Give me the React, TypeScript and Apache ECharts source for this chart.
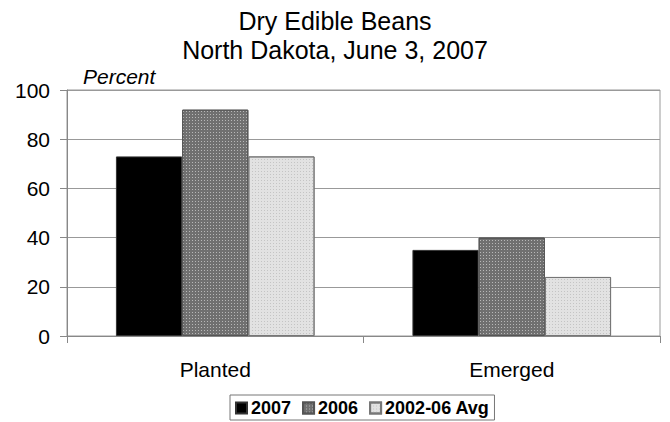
import React, { useEffect, useRef } from "react";
import * as echarts from "echarts";

const categories = ["Planted", "Emerged"];
const seriesNames = ["2007", "2006", "2002-06 Avg"];
const values2007 = [73, 35];
const values2006 = [92, 40];
const valuesAvg = [73, 24];
const yTicks = { min: 0, max: 100, interval: 20 };

export default function App() {
  const ref = useRef<HTMLDivElement>(null);
  useEffect(() => {
    if (!ref.current) return;
    const chart = echarts.init(ref.current, undefined, { renderer: "svg" });
    const font = "'Liberation Sans', Arial, sans-serif";
    chart.setOption({
      animation: false,
      backgroundColor: "#ffffff",
      textStyle: { fontFamily: font, color: "#000" },
      title: {
        text: "Dry Edible Beans\nNorth Dakota, June 3, 2007",
        left: "center",
        top: 1,
        textStyle: { fontFamily: font, fontSize: 25, fontWeight: "normal", lineHeight: 29, color: "#000" },
      },
      graphic: [
        {
          type: "text",
          left: 83,
          top: 66,
          style: { text: "Percent", fontFamily: font, fontSize: 21, fontStyle: "italic", fill: "#000" },
        },
      ],
      legend: {
        left: 230,
        top: 395,
        data: seriesNames,
        itemWidth: 11,
        itemHeight: 11,
        itemGap: 11,
        icon: "rect",
        borderColor: "#777",
        borderWidth: 1,
        padding: [4, 5, 3, 5],
        textStyle: { fontFamily: font, fontSize: 18, fontWeight: "bold", color: "#000", padding: [0, 0, 0, -1] },
      },
      grid: {
        left: 67,
        right: 10,
        top: 90,
        bottom: 86,
        show: true,
        borderColor: "#999",
        borderWidth: 1,
      },
      xAxis: {
        type: "category",
        data: categories,
        axisLine: { show: true, lineStyle: { color: "#888", width: 1 } },
        axisTick: { show: true, length: 7, alignWithLabel: false, lineStyle: { color: "#888" } },
        axisLabel: { fontFamily: font, fontSize: 21, color: "#000", margin: 23 },
      },
      yAxis: {
        type: "value",
        min: yTicks.min,
        max: yTicks.max,
        interval: yTicks.interval,
        axisLine: { show: true, lineStyle: { color: "#888", width: 1 } },
        axisTick: { show: true, length: 7, lineStyle: { color: "#888" } },
        axisLabel: { fontFamily: font, fontSize: 21, color: "#000", margin: 17 },
        splitLine: { show: true, lineStyle: { color: "#999", width: 1 } },
      },
      series: [
        {
          name: seriesNames[0],
          type: "bar",
          data: values2007,
          barGap: "0%",
          barCategoryGap: "33%",
          itemStyle: { color: "#000", borderColor: "#333", borderWidth: 1 },
        },
        {
          name: seriesNames[1],
          type: "bar",
          data: values2006,
          barGap: "0%",
          barCategoryGap: "33%",
          itemStyle: {
            color: "#707070",
            borderColor: "#555",
            borderWidth: 1,
            decal: {
              symbol: "rect",
              symbolSize: 1,
              color: "#b8b8b8",
              dashArrayX: [1, 2],
              dashArrayY: [1, 2],
              rotation: 0,
            },
          },
        },
        {
          name: seriesNames[2],
          type: "bar",
          data: valuesAvg,
          barGap: "0%",
          barCategoryGap: "33%",
          itemStyle: {
            color: "#e2e2e2",
            borderColor: "#777",
            borderWidth: 1,
            decal: {
              symbol: "rect",
              symbolSize: 1,
              color: "#c4c4c4",
              dashArrayX: [1, 2],
              dashArrayY: [1, 2],
              rotation: 0,
            },
          },
        },
      ],
    });
    return () => chart.dispose();
  }, []);
  return (
    <div
      ref={ref}
      style={{ position: "fixed", left: 0, top: 0, width: 670, height: 422, background: "#fff" }}
    />
  );
}
